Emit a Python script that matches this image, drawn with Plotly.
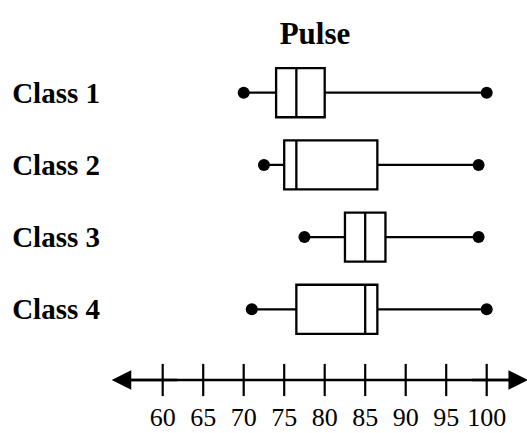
import plotly.graph_objects as go

# ---- data ----
classes = ["Class 1", "Class 2", "Class 3", "Class 4"]
minimum = [70, 72.5, 77.5, 71]
q1 = [74, 75, 82.5, 76.5]
median = [76.5, 76.5, 85, 85]
q3 = [80, 86.5, 87.5, 86.5]
maximum = [100, 99, 99, 100]
tick_values = [60, 65, 70, 75, 80, 85, 90, 95, 100]
tick_labels = [str(v) for v in tick_values]
title_text = "Pulse"

# ---- layout constants ----
W, H = 527, 433
ML, MB = 105, 34
FONT = "Liberation Serif"
INK = "#000000"
PX_PER_UNIT, X60_PX = 8.1, 162.7
XR = [60 - (X60_PX - ML) / PX_PER_UNIT, 60 + (W - X60_PX) / PX_PER_UNIT]
ROW0_PX, ROW_STEP = 92.7, 72.2
PLOT_H = H - MB
YR = [(PLOT_H - ROW0_PX) / ROW_STEP, -ROW0_PX / ROW_STEP]
LINE_Y = (380 - ROW0_PX) / ROW_STEP
ARROW_L, ARROW_R = 53.7, 105.1

pos = list(range(len(classes)))

fig = go.Figure()

fig.add_trace(go.Box(
    y=pos, q1=q1, median=median, q3=q3,
    lowerfence=minimum, upperfence=maximum,
    orientation="h", width=0.68, whiskerwidth=0,
    fillcolor="white", line=dict(color=INK, width=2.3),
    boxpoints=False, hoverinfo="skip", showlegend=False,
))

fig.add_trace(go.Scatter(
    x=minimum + maximum, y=pos + pos, mode="markers",
    marker=dict(color=INK, size=12), showlegend=False, hoverinfo="skip",
))

# number line
fig.add_trace(go.Scatter(
    x=[ARROW_L + 2, ARROW_R - 2], y=[LINE_Y, LINE_Y], mode="lines",
    line=dict(color=INK, width=2.3), showlegend=False, hoverinfo="skip",
    cliponaxis=False,
))
fig.add_trace(go.Scatter(
    x=tick_values, y=[LINE_Y] * len(tick_values), mode="markers",
    marker=dict(symbol="line-ns-open", size=23, color=INK,
                line=dict(color=INK, width=2.2)),
    showlegend=False, hoverinfo="skip",
))
for tip, tail in [(ARROW_L, 62), (ARROW_R, 98)]:
    fig.add_annotation(
        x=tip, y=LINE_Y, ax=tail, ay=LINE_Y, xref="x", yref="y",
        axref="x", ayref="y", text="", showarrow=True,
        arrowhead=2, arrowsize=1.7, arrowwidth=2.3, arrowcolor=INK,
    )

fig.update_layout(
    width=W, height=H,
    margin=dict(l=ML, r=0, t=0, b=MB, autoexpand=False),
    paper_bgcolor="white", plot_bgcolor="white",
    title=dict(text=title_text, x=315 / W, xanchor="center", xref="container",
               y=1 - 33 / H, yanchor="middle", yref="container",
               font=dict(family=FONT, size=31, color=INK, weight="bold")),
    xaxis=dict(range=XR, tickvals=tick_values, ticktext=tick_labels,
               showgrid=False, zeroline=False, showline=False, ticks="",
               automargin=False,
               tickfont=dict(family=FONT, size=26, color=INK)),
    yaxis=dict(range=YR, tickvals=pos, ticktext=classes,
               showgrid=False, zeroline=False, showline=False, ticks="",
               automargin=False, ticklabelstandoff=4,
               tickfont=dict(family=FONT, size=29, color=INK, weight="bold")),
)

fig.write_html(
    "out.html",
    config={"displayModeBar": False},
    post_script="document.body.style.margin='0';document.body.style.overflow='hidden';",
)
